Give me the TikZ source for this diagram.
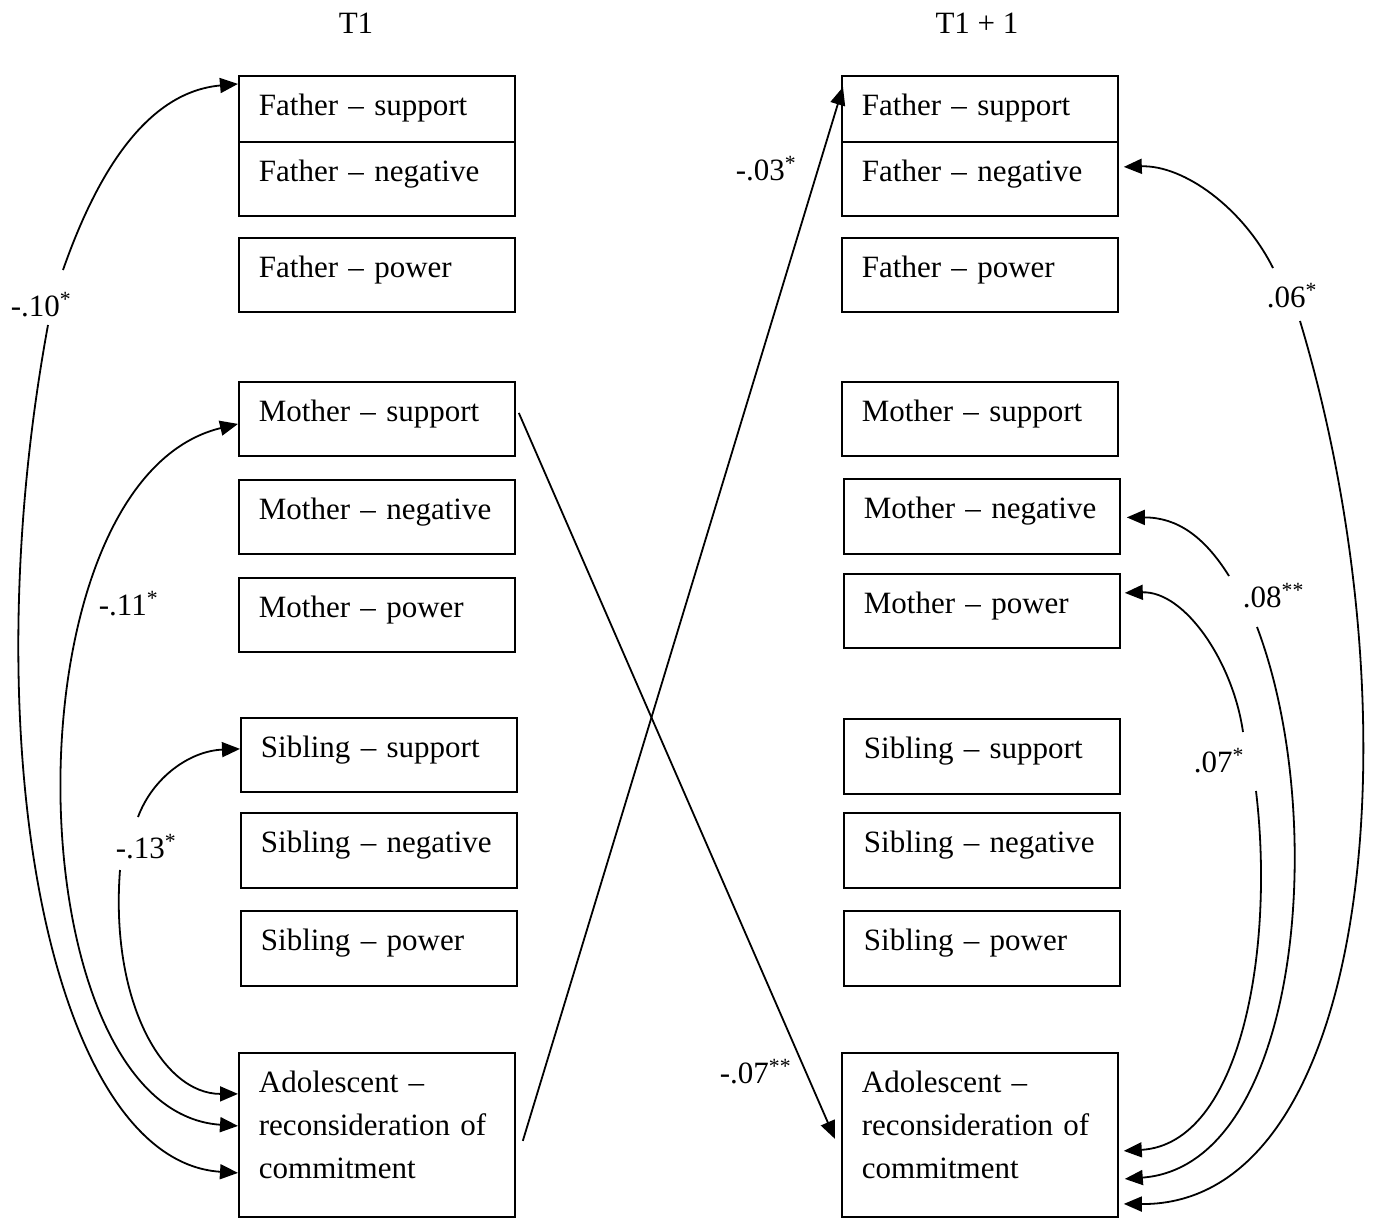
\documentclass[tikz,border=0pt]{standalone}
\usepackage{fontspec}
\setmainfont{Liberation Serif}
\usetikzlibrary{arrows.meta}
\hyphenpenalty=10000

\begin{document}
\begin{tikzpicture}[x=1pt,y=-1pt,
  every node/.style={font=\fontsize{31}{43}\selectfont},
  >={Triangle[length=18pt,width=15pt]},
  box/.style={draw,line width=1.8pt,anchor=north west,text width=236pt,align=left,
    inner xsep=20pt,inner ysep=0pt,text height=40pt,text depth=34pt},
  coef/.style={anchor=base west,inner sep=0pt},
  every path/.style={line width=1.8pt}]
\useasboundingbox (0,0) rectangle (1373,1218);
% headers
\node[anchor=base] (hd1) at (356,33) {T1};
\node[anchor=base] (hd2) at (977,33) {T1 + 1};
% T1
\node[box,text depth=26pt] (fs1) at (238,75) {Father – support};
\node[box] (fn1) at (238,141) {Father – negative};
\node[box] (fp1) at (238,237) {Father – power};
\node[box] (ms1) at (238,381) {Mother – support};
\node[box] (mn1) at (238,479) {Mother – negative};
\node[box] (mp1) at (238,577) {Mother – power};
\node[box] (ss1) at (240,717) {Sibling – support};
\node[box,text depth=35pt] (sn1) at (240,812) {Sibling – negative};
\node[box,text depth=35pt] (sp1) at (240,910) {Sibling – power};
\node[box,text depth=124pt] (ad1) at (238,1052) {Adolescent –\\reconsideration of\\commitment};
% T1 + 1
\node[box,text depth=26pt] (fs2) at (841,75) {Father – support};
\node[box] (fn2) at (841,141) {Father – negative};
\node[box] (fp2) at (841,237) {Father – power};
\node[box] (ms2) at (841,381) {Mother – support};
\node[box,text depth=35pt] (mn2) at (843,478) {Mother – negative};
\node[box] (mp2) at (843,573) {Mother – power};
\node[box,text depth=35pt] (ss2) at (843,718) {Sibling – support};
\node[box,text depth=35pt] (sn2) at (843,812) {Sibling – negative};
\node[box,text depth=35pt] (sp2) at (843,910) {Sibling – power};
\node[box,text depth=124pt] (ad2) at (841,1052) {Adolescent –\\reconsideration of\\commitment};
% coefficients
\node[coef] (c10) at (10,316) {-.10\textsuperscript{*}};
\node[coef] (c11) at (98,615) {-.11\textsuperscript{*}};
\node[coef] (c13) at (115,858) {-.13\textsuperscript{*}};
\node[coef] (c06) at (1266,307) {.06\textsuperscript{*}};
\node[coef] (c08) at (1242,607) {.08\textsuperscript{**}};
\node[coef] (c07) at (1193,772) {.07\textsuperscript{*}};
\node[coef] (p03) at (735,180) {-.03\textsuperscript{*}};
\node[coef] (p07) at (719,1083) {-.07\textsuperscript{**}};
% ends of the broken curves, next to the coefficients
\coordinate (c10a) at (63,270);
\coordinate (c10b) at (48,325);
\coordinate (c13a) at (138,817);
\coordinate (c13b) at (120,870);
\coordinate (c06a) at (1273,268);
\coordinate (c06b) at (1300,321);
\coordinate (c08a) at (1229,576);
\coordinate (c08b) at (1257,627);
\coordinate (c07a) at (1243,732);
\coordinate (c07b) at (1256,791);
% correlations at T1
\draw[->] (c10a) .. controls +(35,-100) and +(-90,8) .. ([yshift=25pt]fs1.west);
\draw[->] (c10b) .. controls +(-78,425) and +(-186,-12) .. ([yshift=-38pt]ad1.west);
\draw[<->] ([yshift=-5pt]ms1.west) .. controls +(-236,57) and +(-226,-15) .. ([yshift=9pt]ad1.west);
\draw[->] (c13a) .. controls +(15,-40) and +(-50,2) .. ([yshift=6pt]ss1.west);
\draw[->] (c13b) .. controls +(-10,130) and +(-76,0) .. ([yshift=41pt]ad1.west);
% correlations at T1 + 1
\draw[->] (c06a) .. controls +(-30,-60) and +(60,-2) .. ([xshift=5pt,yshift=12pt]fn2.east);
\draw[->] (c06b) .. controls +(120,399) and +(247,2) .. ([xshift=5pt,yshift=-69pt]ad2.east);
\draw[->] (c08a) .. controls +(-25,-40) and +(50,0) .. ([xshift=6pt,yshift=-1pt]mn2.east);
\draw[->] (c08b) .. controls +(73,193) and +(175,-13) .. ([xshift=6pt,yshift=-44pt]ad2.east);
\draw[->] (c07a) .. controls +(-10,-70) and +(60,-2) .. ([xshift=4pt,yshift=18pt]mp2.east);
\draw[->] (c07b) .. controls +(19,159) and +(117,-7) .. ([xshift=5pt,yshift=-16pt]ad2.east);
% cross-lagged paths
\draw[->] ([xshift=3pt,yshift=6pt]ms1.east) -- ([xshift=-6pt,yshift=-4pt]ad2.west);
\draw[->] ([xshift=7pt,yshift=-6pt]ad1.east) -- ([xshift=2pt,yshift=-12pt]fs2.north west);
\end{tikzpicture}
\end{document}
